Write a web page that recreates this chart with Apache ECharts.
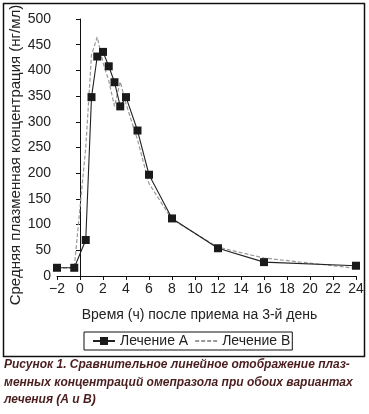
<!DOCTYPE html>
<html>
<head>
<meta charset="utf-8">
<script src="https://cdn.jsdelivr.net/npm/echarts@6/dist/echarts.min.js"></script>
<style>
html,body{margin:0;padding:0;background:#fff;}
#c{width:369px;height:414px;}
</style>
</head>
<body>
<div id="c"></div>
<script>
var timesA = [-2, -0.5, 0.5, 1, 1.5, 2, 2.5, 3, 3.5, 4, 5, 6, 8, 12, 16, 24];
var valuesA = [16, 16, 70, 348, 427, 436, 408, 377, 330, 348, 283, 197, 112, 54, 27, 20];
var timesB = [-2, -0.5, 0.5, 1, 1.5, 2, 2.5, 3, 3.5, 4, 5, 6, 8, 12, 16, 24];
var valuesB = [16, 16, 250, 430, 465, 415, 380, 330, 378, 335, 265, 180, 110, 56, 35, 15];
var yTicks = [0, 50, 100, 150, 200, 250, 300, 350, 400, 450, 500];
var xTicks = [-2, 0, 2, 4, 6, 8, 10, 12, 14, 16, 18, 20, 22, 24];
var nameA = 'Лечение А';
var nameB = 'Лечение В';
var xName = 'Время (ч) после приема на 3-й день';
var yName = 'Средняя плазменная концентрация (нг/мл)';
var captionLines = [
  'Рисунок 1. Сравнительное линейное отображение плаз-',
  'менных концентраций омепразола при обоих вариантах',
  'лечения (А и В)'
];

function pairs(xs, ys){ return xs.map(function(x,i){ return [x, ys[i]]; }); }

var font = 'Liberation Sans';
var chart = echarts.init(document.getElementById('c'));
chart.setOption({
  animation: false,
  textStyle: {fontFamily: font},
  grid: {left: 57, right: 13, top: 19, bottom: 138, outerBoundsMode: 'none', containLabel: false},
  xAxis: {
    type: 'value', min: xTicks[0], max: xTicks[xTicks.length-1], interval: 2,
    axisLine: {lineStyle: {color: '#111', width: 1}},
    axisTick: {lineStyle: {color: '#111'}, length: 4},
    axisLabel: {color: '#222', fontSize: 14, margin: 6,
      formatter: function(v){ return v < 0 ? '\u2212' + Math.abs(v) : String(v); }},
    splitLine: {show: false},
    name: xName, nameLocation: 'middle', nameGap: 32,
    nameTextStyle: {color: '#222', fontSize: 14, padding: [0, 14, 0, 0]}
  },
  yAxis: {
    type: 'value', min: yTicks[0], max: yTicks[yTicks.length-1], interval: 50,
    axisLine: {show: true, lineStyle: {color: '#111', width: 1}},
    axisTick: {show: true, lineStyle: {color: '#111'}, length: 4},
    axisLabel: {color: '#222', fontSize: 14, margin: 6},
    splitLine: {show: false}
  },
  legend: {
    left: 84, top: 332, orient: 'horizontal',
    borderColor: '#111', borderWidth: 1, padding: [2, 2, 2, 8],
    itemGap: 6, itemWidth: 22, itemHeight: 10,
    textStyle: {color: '#222', fontSize: 14, fontFamily: font},
    data: [{name: nameA}, {name: nameB, itemStyle: {opacity: 0}}]
  },
  series: [
    {
      name: nameB, type: 'line', data: pairs(timesB, valuesB),
      symbol: 'none', z: 1,
      lineStyle: {color: '#999', width: 1.2, type: [4, 2]},
      itemStyle: {color: '#999'}
    },
    {
      name: nameA, type: 'line', data: pairs(timesA, valuesA),
      symbol: 'rect', symbolSize: 8, z: 2,
      lineStyle: {color: '#222', width: 1.1},
      itemStyle: {color: '#1a1a1a'}
    }
  ],
  graphic: [
    {type: 'rect', silent: true, shape: {x: 3.5, y: 3.5, width: 361, height: 353},
      style: {fill: 'none', stroke: '#111', lineWidth: 1.5}},
    {type: 'text', x: 16, y: 155, rotation: Math.PI / 2, silent: true,
      style: {text: yName, fill: '#222', align: 'center', verticalAlign: 'middle',
        font: '15px "Liberation Sans"'}},
    {type: 'text', left: 4, top: 356, silent: true,
      style: {text: captionLines.join('\n'), fill: '#4a1e1e', lineHeight: 17.5,
        font: 'italic bold 12px "Liberation Sans"'}}
  ]
});
</script>
</body>
</html>
